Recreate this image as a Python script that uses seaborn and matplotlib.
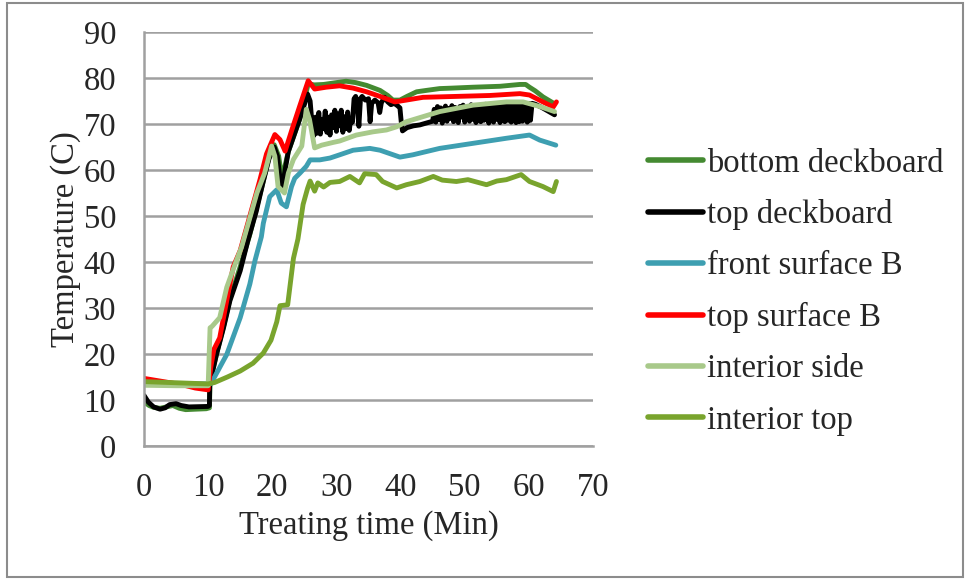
import matplotlib
matplotlib.use("Agg")
import matplotlib.pyplot as plt
from matplotlib.patches import Rectangle
import numpy as np
import pandas as pd
import seaborn as sns

# ---- series names, colours ----
series_names = ["bottom deckboard", "top deckboard", "front surface B",
                "top surface B", "interior side", "interior top"]
series_colors = ["#448a31", "#000000", "#3e9fb1", "#ff0000", "#a8c98a", "#79a42d"]

# ---- readings (time in min, temperature in C) ----
bottom_deck_t = [0, 0.8, 1.5, 2.5, 3.5, 4.5, 5.5, 6.5, 8, 9.7, 10.2, 10.3, 11.3, 12.4,
                 13.4, 15, 16.5, 18.5, 19.5, 20.3, 21, 21.5, 22.5, 23.5, 24.5, 25.6,
                 26.5, 28, 30, 31.5, 33, 34.7, 36.8, 38, 38.8, 39.9, 41, 42.5, 44,
                 46.1, 48, 51.3, 55.5, 58.6, 59.5, 60.1, 61, 62.2, 64]
bottom_deck_T = [9.6, 8.8, 8.4, 8.2, 8.5, 8.8, 8.2, 7.9, 8.0, 8.1, 8.3, 14, 20, 26,
                 32, 39, 46, 57, 63, 65.5, 63, 58, 64, 68, 72, 78.8,
                 78.5, 78.6, 79, 79.3, 79, 78.4, 77.3, 76.2, 75.2, 75.2, 76, 77, 77.3,
                 77.7, 77.8, 78, 78.2, 78.6, 78.6, 78, 77.2, 75.9, 74.4]

top_deck_t = [0, 0.7, 1.5, 2.5, 3.3, 4, 5, 5.8, 7, 10, 10.2, 10.25, 11.3, 12.4, 13.4,
              15, 16.2, 17.5, 18.5, 19.5, 20.3, 20.8, 21.3, 21.6, 22, 22.5, 23.5, 24.5,
              25.5, 25.9, 26.2,
              26.5, 26.75, 27.0, 27.25, 27.5, 27.75, 28.0, 28.25, 28.5, 28.75, 29.0,
              29.25, 29.5, 29.75, 30.0, 30.25, 30.5, 30.75, 31.0, 31.25, 31.5, 31.75,
              32.0, 32.25, 32.5,
              32.75, 33.0, 33.25, 33.5, 33.75, 34.0, 34.5, 35.0, 35.25, 35.5, 36.0,
              36.5, 36.75, 37.0, 37.5, 38.0, 38.5, 39.0, 39.5, 39.9, 40.1, 40.3, 41,
              42, 43, 44, 45,
              45.25, 45.5, 45.75, 46.0, 46.25, 46.5, 46.75, 47.0, 47.25, 47.5, 47.75,
              48.0, 48.25, 48.5, 48.75, 49.0, 49.25, 49.5, 49.75, 50.0, 50.25, 50.5,
              50.75, 51.0, 51.25, 51.5, 51.75, 52.0, 52.25, 52.5, 52.75, 53.0, 53.25,
              53.5, 53.75, 54.0, 54.25, 54.5, 54.75, 55.0, 55.25, 55.5, 55.75, 56.0,
              56.25, 56.5, 56.75, 57.0, 57.25, 57.5, 57.75, 58.0, 58.25, 58.5, 58.75,
              59.0, 59.25, 59.5, 59.75, 60.0, 60.25,
              60.5, 61, 62, 63, 64]
top_deck_T = [11, 9.5, 8.5, 8.0, 8.3, 9.0, 9.2, 8.8, 8.5, 8.6, 8.8, 13.5, 19.9, 25.7,
              31.6, 38.1, 44.7, 51, 57, 62.5, 65, 63, 57, 56.5, 60, 64, 68, 72,
              76.5, 75, 70,
              67.5, 71.5, 68, 72.5, 67.8, 71, 69, 72.8, 68.2, 71.5, 67.6,
              72, 69.2, 73, 68.4, 72.2, 69.6, 73, 68.2, 71.6, 69, 72.6,
              68.6, 71.2, 70.4,
              75.5, 76, 74.5, 69.5, 75.5, 76, 75.2, 75.5, 70.5, 74.5, 75.2,
              74.6, 72.5, 74.6, 75.8, 74.8, 74.2, 74.5, 74, 73.5, 70.5, 68.5, 69.2,
              69.6, 69.8, 70.2, 70.6,
              73.2, 70.4, 73.8, 71.0, 73.5, 70.2, 72.8, 73.9, 70.6, 73.4, 71.2,
              74.0, 70.5, 73.6, 72.0, 70.3, 73.8, 71.5, 74.1, 70.4, 73.5, 72.4,
              70.6, 74.2, 71.0, 73.7, 70.3, 74.0, 72.2, 70.5, 73.9, 70.8, 74.3,
              71.4, 70.2, 74.0, 72.6, 70.4, 74.4, 71.0, 73.8, 70.3, 74.2, 72.0,
              70.5, 74.5, 70.8, 74.0, 70.4, 74.3, 71.6, 70.3, 74.6, 70.5, 74.0,
              70.6, 74.4, 71.2, 70.4, 74.5, 70.8,
              74.5, 74.3, 73.6, 72.8, 72.0]

front_surf_t = [0, 5, 10, 10.5, 10.8, 12.9, 15, 16.5, 17.3, 18.3, 18.6, 19.6, 20.7,
                21.4, 22.2, 23, 23.5, 24.3, 25.3, 25.9, 27.4, 29, 30.5, 32.6, 35.2,
                36.8, 39.9, 41.9, 46.1, 51.3, 56.5, 60.1, 61.7, 64.2]
front_surf_T = [13.6, 13.6, 13.5, 13.6, 14.5, 19.9, 27.9, 35.2, 40.3, 45.5, 48.4, 54.2,
                55.7, 52.8, 52, 56.4, 58.2, 59.3, 60.8, 62.2, 62.2, 62.6, 63.3, 64.3,
                64.7, 64.3, 62.8, 63.3, 64.7, 65.8, 66.9, 67.6, 66.5, 65.4]

top_surf_t = [0, 3, 6, 8, 10, 10.4, 10.9, 11.8, 12.9, 13.9, 15, 16.5, 18.1, 19.1, 20.4,
              21.2, 22, 23, 24.3, 25.6, 26.6, 28.4, 30.5, 32.6, 34.7, 36.8, 39.1,
              40.9, 43.5, 48.7, 53.9, 58.6, 60.1, 62.2, 63.8, 64.3]
top_surf_T = [14.7, 14, 13.3, 12.6, 12.2, 17, 21, 23.5, 31.6, 38.9, 42.5, 50, 58, 63.5,
              67.7, 66.6, 64.1, 68.5, 74, 79.4, 77.6, 78, 78.3, 77.8, 77.0, 76.0, 74.8,
              75.2, 75.8, 76.0, 76.2, 76.6, 76.3, 74.8, 73.7, 74.8]

int_side_t = [0, 5, 10, 10.3, 10.6, 11.8, 12.9, 14.4, 15.2, 17.6, 18.8, 19.9, 20.4,
              20.9, 21.9, 22.5, 23.3, 24.6, 25.3, 25.8, 26.6, 27.7, 29.5, 30.5, 33.1,
              35.7, 37.8, 39.4, 40.9, 43.5, 46.1, 51.3, 56.5, 59.1, 61.7, 64]
int_side_T = [13.2, 13.1, 13.1, 25.7, 26, 27.9, 34.5, 40.3, 43.2, 55, 59.3, 65.2, 63,
              56.4, 55, 59.3, 62.3, 65.2, 73.2, 71, 64.8, 65.4, 66.0, 66.3, 67.6,
              68.3, 68.7, 69.4, 70.5, 71.6, 72.7, 74.1, 74.8, 74.8, 73.8, 72.7]

int_top_t = [0, 2, 4, 6, 8, 10, 11, 13, 15, 17, 18.6, 19.8, 20.7, 21.2, 22.4, 23.3, 24,
             24.8, 25.5, 25.9, 26.6, 27.1, 28, 29, 30.5, 32.1, 33.6, 34.4, 36.2, 37.2,
             39.4, 40.9, 43, 45.1, 46.5, 48.7, 50.5, 53.4, 55, 56.5, 58.8, 60.1, 62.2,
             63.8, 64.3]
int_top_T = [14, 13.9, 13.8, 13.7, 13.6, 13.5, 13.8, 15, 16.3, 18, 20.2, 23, 27, 30.5,
             30.7, 40.8, 45, 52.5, 56, 57.6, 55.4, 57.2, 56.3, 57.3, 57.5, 58.6, 57.2,
             59.2, 59, 57.5, 56.1, 56.8, 57.5, 58.6, 57.8, 57.5, 57.9, 56.8, 57.6, 57.9,
             59, 57.5, 56.4, 55.3, 57.5]

x_ticks = [0, 10, 20, 30, 40, 50, 60, 70]
y_ticks = [0, 10, 20, 30, 40, 50, 60, 70, 80, 90]

series_data = [(bottom_deck_t, bottom_deck_T), (top_deck_t, top_deck_T),
               (front_surf_t, front_surf_T), (top_surf_t, top_surf_T),
               (int_side_t, int_side_T), (int_top_t, int_top_T)]

frames = []
for name, (t, temp) in zip(series_names, series_data):
    frames.append(pd.DataFrame({"time": t, "temp": temp, "sensor": name}))
df = pd.concat(frames, ignore_index=True)

# ---- style ----
sns.set_theme(style="white")
plt.rcParams["font.family"] = ["Liberation Serif", "DejaVu Serif"]
FS = 23.5

fig = plt.figure(figsize=(9.67, 5.79), dpi=100)
ax = fig.add_axes([144 / 967, 1 - 446 / 579, (593 - 144) / 967, (446 - 32) / 579])

palette = dict(zip(series_names, series_colors))
sns.lineplot(data=df, x="time", y="temp", hue="sensor", hue_order=series_names,
             palette=palette, estimator=None, sort=False, linewidth=3.5,
             legend=False, ax=ax)

ax.set_xlim(0, 70)
ax.set_ylim(0, 90)
ax.set_xticks(x_ticks)
ax.set_yticks(y_ticks)
ax.set_xticklabels([str(v) for v in x_ticks], fontsize=FS)
ax.set_yticklabels([str(v) for v in y_ticks], fontsize=FS)
ax.tick_params(axis="x", length=0, pad=19)
ax.tick_params(axis="y", length=0, pad=20)

ax.grid(axis="y", color="#a0a0a0", linewidth=1.8)
ax.grid(axis="x", visible=False)
ax.set_axisbelow(True)
for side in ["top", "right"]:
    ax.spines[side].set_visible(False)
for side in ["left", "bottom"]:
    ax.spines[side].set_color("#a0a0a0")
    ax.spines[side].set_linewidth(1.8)

ax.set_xlabel("Treating time (Min)", fontsize=FS, labelpad=5)
ax.set_ylabel("Temperature (C)", fontsize=FS, labelpad=2)

# legend on the right
handles = [plt.Line2D([], [], color=c, linewidth=4.0, solid_capstyle="round")
           for c in series_colors]
fig.legend(handles, series_names, loc="upper left",
           bbox_to_anchor=(648 / 967, 1 - 148 / 579), frameon=False,
           fontsize=FS, handlelength=1.7, handletextpad=0.12,
           labelspacing=0.635, borderpad=0, borderaxespad=0)

# outer chart border
fig.add_artist(Rectangle((7 / 967, 2 / 579), (963 - 7) / 967, (576 - 2) / 579,
                         transform=fig.transFigure, fill=False,
                         edgecolor="#8c8c8c", linewidth=1.5))

fig.savefig("out.png", dpi=100)
